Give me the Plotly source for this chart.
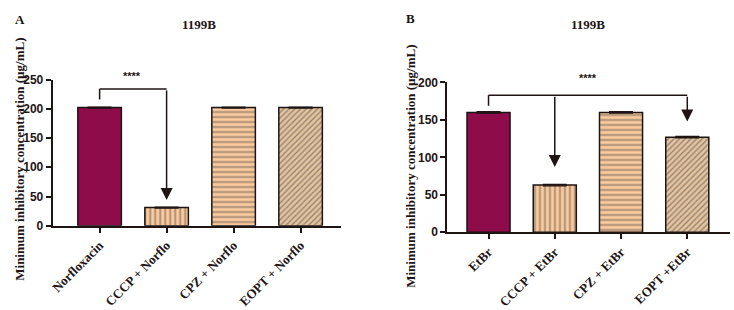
import plotly.graph_objects as go

# Data (MIC, ug/mL)
labels_a = ['Norfloxacin', 'CCCP + Norflo', 'CPZ + Norflo', 'EOPT + Norflo']
mic_a = [202, 31, 202, 202]
labels_b = ['EtBr', 'CCCP + EtBr', 'CPZ + EtBr', 'EOPT +EtBr']
mic_b = [160, 63, 160, 127]
err = [1, 1, 1, 1]
yticks_a = [0, 50, 100, 150, 200, 250]
yticks_b = [0, 50, 100, 150, 200]

# bar styling shared by both panels
bg = ['#8E0C4A', '#FCCB9E', '#FCCB9E', '#E6C4A0']
fg = ['#7A0A40', '#6E4028', '#6E4028', '#56361F']
shapes_ = ['', '|', '-', '/']
sizes = [6, 5, 5, 4]

serif = 'Liberation Serif'
sans = 'Liberation Sans'
ink = '#1E1414'


def b(s):
    return '<b>' + str(s) + '</b>'


fig = go.Figure()

for labs, vals, xa, ya in [(labels_a, mic_a, 'x', 'y'), (labels_b, mic_b, 'x2', 'y2')]:
    fig.add_trace(go.Bar(
        x=list(range(len(labs))), y=vals,
        xaxis=xa, yaxis=ya, width=0.65,
        marker=dict(color=bg, line=dict(color=ink, width=1.5),
                    pattern=dict(shape=shapes_, fgcolor=fg, bgcolor=bg,
                                 size=sizes, solidity=0.35)),
        error_y=dict(type='data', array=err, color=ink, thickness=1.2, width=12),
        showlegend=False,
    ))

xcommon = dict(showline=True, linecolor=ink, linewidth=2, ticks='outside',
               ticklen=5, tickwidth=2, tickcolor=ink, tickangle=-45,
               tickfont=dict(family=serif, size=13, color=ink),
               showgrid=False, zeroline=False, tickmode='array')
ycommon = dict(showline=True, linecolor=ink, linewidth=2, ticks='outside',
               ticklen=5, tickwidth=2, tickcolor=ink,
               tickfont=dict(family=sans, size=12, color=ink),
               showgrid=False, zeroline=False, tickmode='array')

fig.update_layout(
    width=734, height=310,
    margin=dict(l=0, r=0, t=0, b=0),
    paper_bgcolor='white', plot_bgcolor='white',
    xaxis=dict(xcommon, domain=[0.068, 0.463], range=[-0.70, 3.61],
               tickvals=list(range(4)), ticktext=[b(t) for t in labels_a], anchor='y'),
    yaxis=dict(ycommon, domain=[0.261, 0.755], range=[0, 250],
               tickvals=yticks_a, ticktext=[b(t) for t in yticks_a], anchor='x'),
    xaxis2=dict(xcommon, domain=[0.608, 0.995], range=[-0.62, 3.65],
                tickvals=list(range(4)), ticktext=[b(t) for t in labels_b], anchor='y2'),
    yaxis2=dict(ycommon, domain=[0.239, 0.745], range=[0, 200],
                tickvals=yticks_b, ticktext=[b(t) for t in yticks_b], anchor='x2'),
)

line = dict(color=ink, width=1.5)
shapes = []
annots = []
sfont = dict(family=sans, size=11, color=ink)

# Panel A bracket: Norfloxacin -> CCCP
ya_top = 234
shapes.append(dict(type='line', xref='x', yref='y', x0=0, x1=0, y0=mic_a[0] + 14, y1=ya_top, line=line))
shapes.append(dict(type='line', xref='x', yref='y', x0=0, x1=1, y0=ya_top, y1=ya_top, line=line))
annots.append(dict(xref='x', yref='y', axref='x', ayref='y', x=1, y=mic_a[1] + 13,
                   ax=1, ay=ya_top, text='', showarrow=True, arrowhead=2,
                   arrowsize=1.6, arrowwidth=1.5, arrowcolor=ink))
annots.append(dict(xref='paper', yref='paper', x=130 / 734, y=1 - 72 / 310, text=b('****'),
                   showarrow=False, xanchor='center', yanchor='middle', font=sfont))

# Panel B bracket: EtBr -> CCCP and EOPT
yb_top = 183
shapes.append(dict(type='line', xref='x2', yref='y2', x0=0, x1=0, y0=mic_b[0] + 9, y1=yb_top, line=line))
shapes.append(dict(type='line', xref='x2', yref='y2', x0=0, x1=3, y0=yb_top, y1=yb_top, line=line))
for i, off in [(1, 24), (3, 21)]:
    annots.append(dict(xref='x2', yref='y2', axref='x2', ayref='y2', x=i, y=mic_b[i] + off,
                       ax=i, ay=yb_top, text='', showarrow=True, arrowhead=2,
                       arrowsize=1.6, arrowwidth=1.5, arrowcolor=ink))
annots.append(dict(xref='paper', yref='paper', x=587 / 734, y=1 - 74 / 310, text=b('****'),
                   showarrow=False, xanchor='center', yanchor='middle', font=sfont))

# titles, panel letters, y titles
tfont = dict(family=serif, size=13, color=ink)
ytitle = b('Minimum inhibitory concentration (µg/mL)')
for x, y, t, ang in [(197, 18, b('1199B'), 0), (587, 18, b('1199B'), 0),
                     (17, 13, b('A'), 0), (409, 12, b('B'), 0),
                     (17, 159, ytitle, -90), (409, 167, ytitle, -90)]:
    annots.append(dict(xref='paper', yref='paper', x=x / 734, y=1 - y / 310, text=t,
                       textangle=ang, showarrow=False, xanchor='center', yanchor='middle',
                       font=tfont))

fig.update_layout(shapes=shapes, annotations=annots)

fig.write_html("out.html", config={'displayModeBar': False},
               post_script="document.body.style.margin='0';")
